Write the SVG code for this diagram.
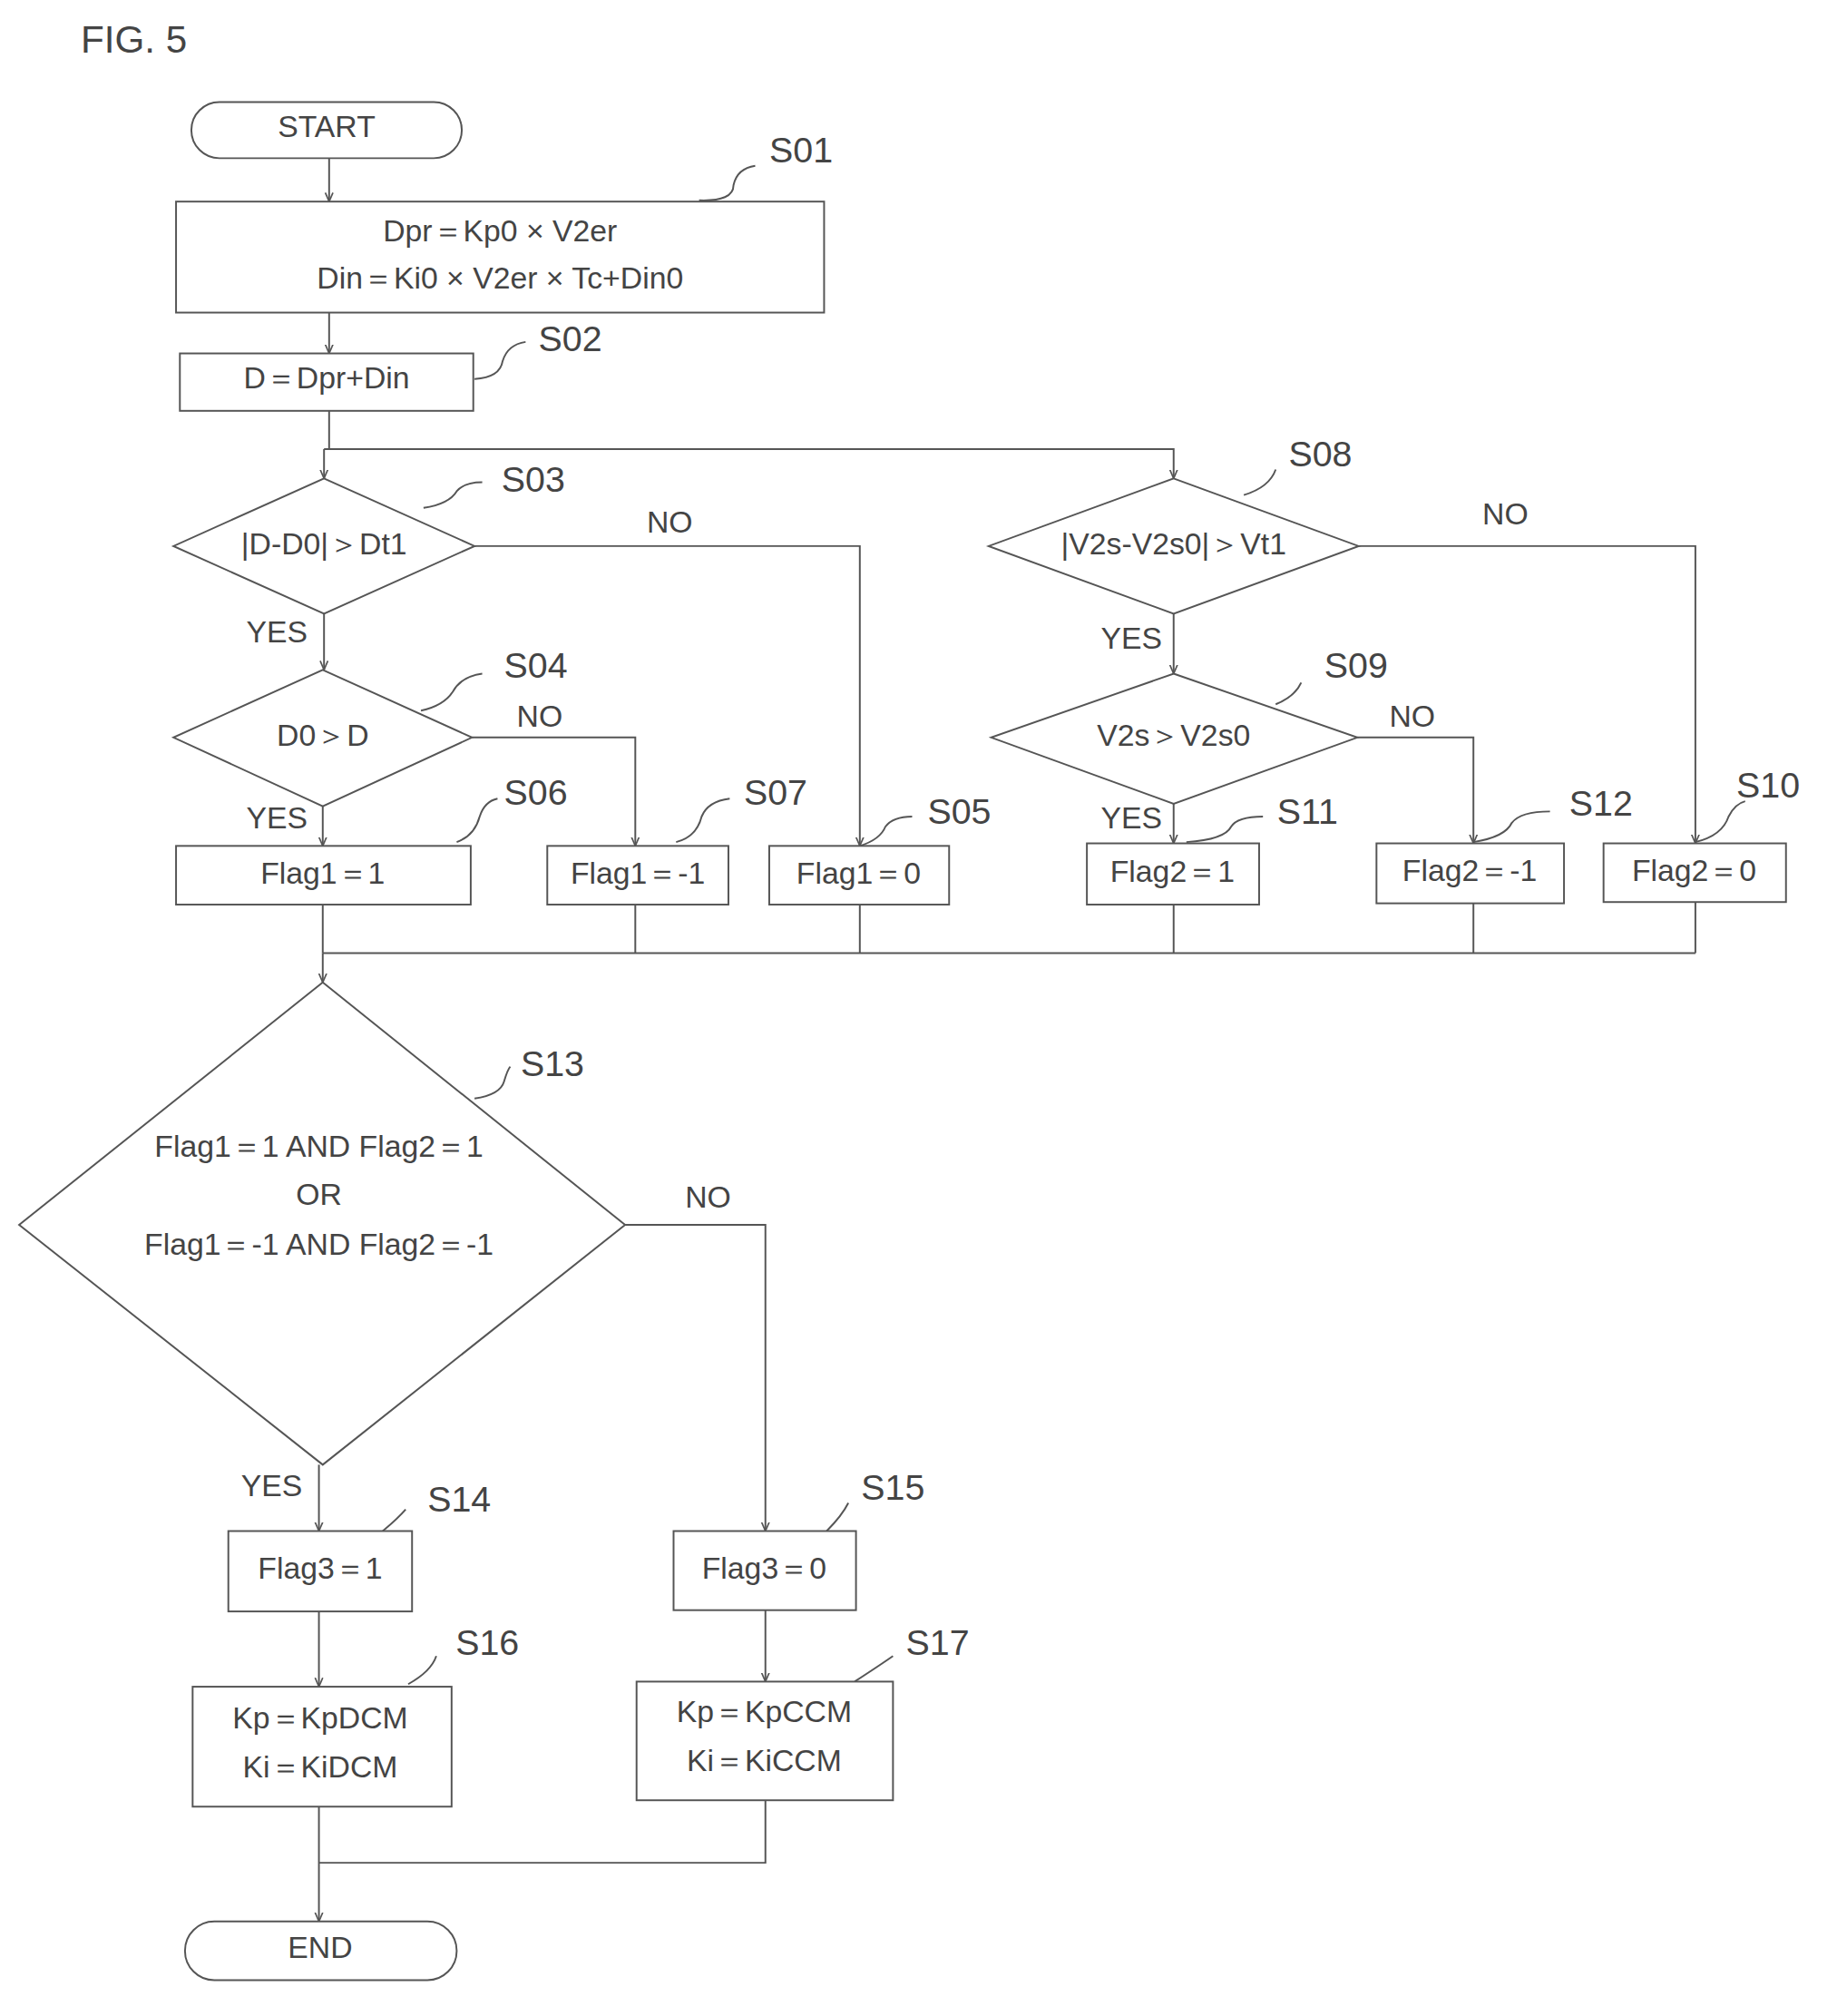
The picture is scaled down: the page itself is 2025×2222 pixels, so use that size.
<svg xmlns="http://www.w3.org/2000/svg" width="2025" height="2222" viewBox="0 0 2025 2222">
<style>
.s{fill:none;stroke:#555;stroke-width:1.4}
.b{fill:#fff;stroke:#555;stroke-width:1.4}
text{font-family:"Liberation Sans",Arial,sans-serif;font-size:24px;fill:#444;text-anchor:middle;dominant-baseline:middle}
.l{font-size:28px}
</style>
<defs><marker id="a" markerWidth="8" markerHeight="8" refX="7" refY="4" orient="auto" markerUnits="userSpaceOnUse"><path d="M0,1 L7,4 L0,7" fill="none" stroke="#555" stroke-width="1.2"/></marker></defs>
<rect width="2025" height="2222" fill="#fff"/>
<g transform="scale(1.40625)">
<text x="105" y="33" style="font-size:30px" >FIG. 5</text>
<g id="connectors">
<path class="s" d="M258,124 V158" marker-end="url(#a)"/>
<path class="s" d="M258,245 V277" marker-end="url(#a)"/>
<path class="s" d="M258,322 V352 M254,352 V375" marker-end="url(#a)"/>
<path class="s" d="M254,352 H920 V375" marker-end="url(#a)"/>
<path class="s" d="M372,428 H674 V663" marker-end="url(#a)"/>
<path class="s" d="M254,481 V525" marker-end="url(#a)"/>
<path class="s" d="M370,578 H498 V663" marker-end="url(#a)"/>
<path class="s" d="M253,632 V663" marker-end="url(#a)"/>
<path class="s" d="M1065,428 H1329 V661" marker-end="url(#a)"/>
<path class="s" d="M920,481 V528" marker-end="url(#a)"/>
<path class="s" d="M1064,578 H1155 V661" marker-end="url(#a)"/>
<path class="s" d="M920,630 V661" marker-end="url(#a)"/>
<path class="s" d="M253,709 V747 M498,709 V747 M674,709 V747 M920,709 V747 M1155,708 V747 M1329,707 V747 M253,747 H1329"/>
<path class="s" d="M253,747 V770" marker-end="url(#a)"/>
<path class="s" d="M490,960 H600 V1200" marker-end="url(#a)"/>
<path class="s" d="M250,1148 V1200" marker-end="url(#a)"/>
<path class="s" d="M250,1263 V1322" marker-end="url(#a)"/>
<path class="s" d="M600,1262 V1318" marker-end="url(#a)"/>
<path class="s" d="M600,1411 V1460 H250"/>
<path class="s" d="M250,1416 V1506" marker-end="url(#a)"/>
<path class="s" d="M548,157 Q575,158 575,145 Q578,132 592,130 M372,297 Q392,296 394,283 Q398,270 412,268 M332,398 Q352,395 358,385 Q364,378 378,378 M358,660 Q372,655 376,640 Q380,628 390,626 M530,660 Q546,656 550,640 Q555,628 572,626 M674,663 Q690,658 694,648 Q700,640 715,640 M975,388 Q995,382 1000,368 M1000,552 Q1015,546 1020,535 M930,660 Q960,658 965,648 Q970,640 990,640 M1155,660 Q1180,656 1185,645 Q1192,636 1215,636 M1329,660 Q1350,655 1355,640 Q1360,630 1368,628 M372,861 Q392,858 395,848 Q398,838 400,836 M300,1200 Q312,1190 318,1183 M648,1200 Q660,1188 665,1178 M320,1320 Q338,1310 342,1298 M670,1318 Q690,1305 700,1298"/>
<path class="s" d="M330,557 Q348,553 355,542 Q362,530 378,528"/>
</g>
<g id="start"><rect class="b" x="150" y="80" width="212" height="44" rx="22"/><text x="256" y="101">START</text></g>
<g id="S01"><rect class="b" x="138" y="158" width="508" height="87"/><text x="392" y="183">Dpr＝Kp0 × V2er</text><text x="392" y="220">Din＝Ki0 × V2er × Tc+Din0</text><text class="l" x="628" y="120">S01</text></g>
<g id="S02"><rect class="b" x="141" y="277" width="230" height="45"/><text x="256" y="298">D＝Dpr+Din</text><text class="l" x="447" y="268">S02</text></g>
<g id="S03"><path class="b" d="M254,375 L372,428 L254,481 L136,428Z"/><text x="254" y="428">|D-D0|＞Dt1</text><text class="l" x="418" y="378">S03</text><text x="525" y="411">NO</text><text x="217" y="497">YES</text></g>
<g id="S04"><path class="b" d="M253,525 L370,578 L253,632 L136,578Z"/><text x="253" y="578">D0＞D</text><text class="l" x="420" y="524">S04</text><text x="423" y="563">NO</text><text x="217" y="643">YES</text></g>
<g id="S06"><rect class="b" x="138" y="663" width="231" height="46"/><text x="253" y="686">Flag1＝1</text><text class="l" x="420" y="623">S06</text></g>
<g id="S07"><rect class="b" x="429" y="663" width="142" height="46"/><text x="500" y="686">Flag1＝-1</text><text class="l" x="608" y="623">S07</text></g>
<g id="S05"><rect class="b" x="603" y="663" width="141" height="46"/><text x="673" y="686">Flag1＝0</text><text class="l" x="752" y="638">S05</text></g>
<g id="S08"><path class="b" d="M920,375 L1065,428 L920,481 L775,428Z"/><text x="920" y="428">|V2s-V2s0|＞Vt1</text><text class="l" x="1035" y="358">S08</text><text x="1180" y="405">NO</text><text x="887" y="502">YES</text></g>
<g id="S09"><path class="b" d="M920,528 L1064,578 L920,630 L777,578Z"/><text x="920" y="578">V2s＞V2s0</text><text class="l" x="1063" y="524">S09</text><text x="1107" y="563">NO</text><text x="887" y="643">YES</text></g>
<g id="S11"><rect class="b" x="852" y="661" width="135" height="48"/><text x="919" y="685">Flag2＝1</text><text class="l" x="1025" y="638">S11</text></g>
<g id="S12"><rect class="b" x="1079" y="661" width="147" height="47"/><text x="1152" y="684">Flag2＝-1</text><text class="l" x="1255" y="632">S12</text></g>
<g id="S10"><rect class="b" x="1257" y="661" width="143" height="46"/><text x="1328" y="684">Flag2＝0</text><text class="l" x="1386" y="618">S10</text></g>
<g id="S13"><path class="b" d="M253,770 L490,960 L253,1148 L15,960Z"/><text x="250" y="900">Flag1＝1 AND Flag2＝1</text><text x="250" y="938">OR</text><text x="250" y="977">Flag1＝-1 AND Flag2＝-1</text><text class="l" x="433" y="836">S13</text><text x="555" y="940">NO</text><text x="213" y="1166">YES</text></g>
<g id="S14"><rect class="b" x="179" y="1200" width="144" height="63"/><text x="251" y="1231">Flag3＝1</text><text class="l" x="360" y="1177">S14</text></g>
<g id="S15"><rect class="b" x="528" y="1200" width="143" height="62"/><text x="599" y="1231">Flag3＝0</text><text class="l" x="700" y="1168">S15</text></g>
<g id="S16"><rect class="b" x="151" y="1322" width="203" height="94"/><text x="251" y="1348">Kp＝KpDCM</text><text x="251" y="1387">Ki＝KiDCM</text><text class="l" x="382" y="1290">S16</text></g>
<g id="S17"><rect class="b" x="499" y="1318" width="201" height="93"/><text x="599" y="1343">Kp＝KpCCM</text><text x="599" y="1382">Ki＝KiCCM</text><text class="l" x="735" y="1290">S17</text></g>
<g id="end"><rect class="b" x="145" y="1506" width="213" height="46" rx="23"/><text x="251" y="1528">END</text></g>
</g>
</svg>
